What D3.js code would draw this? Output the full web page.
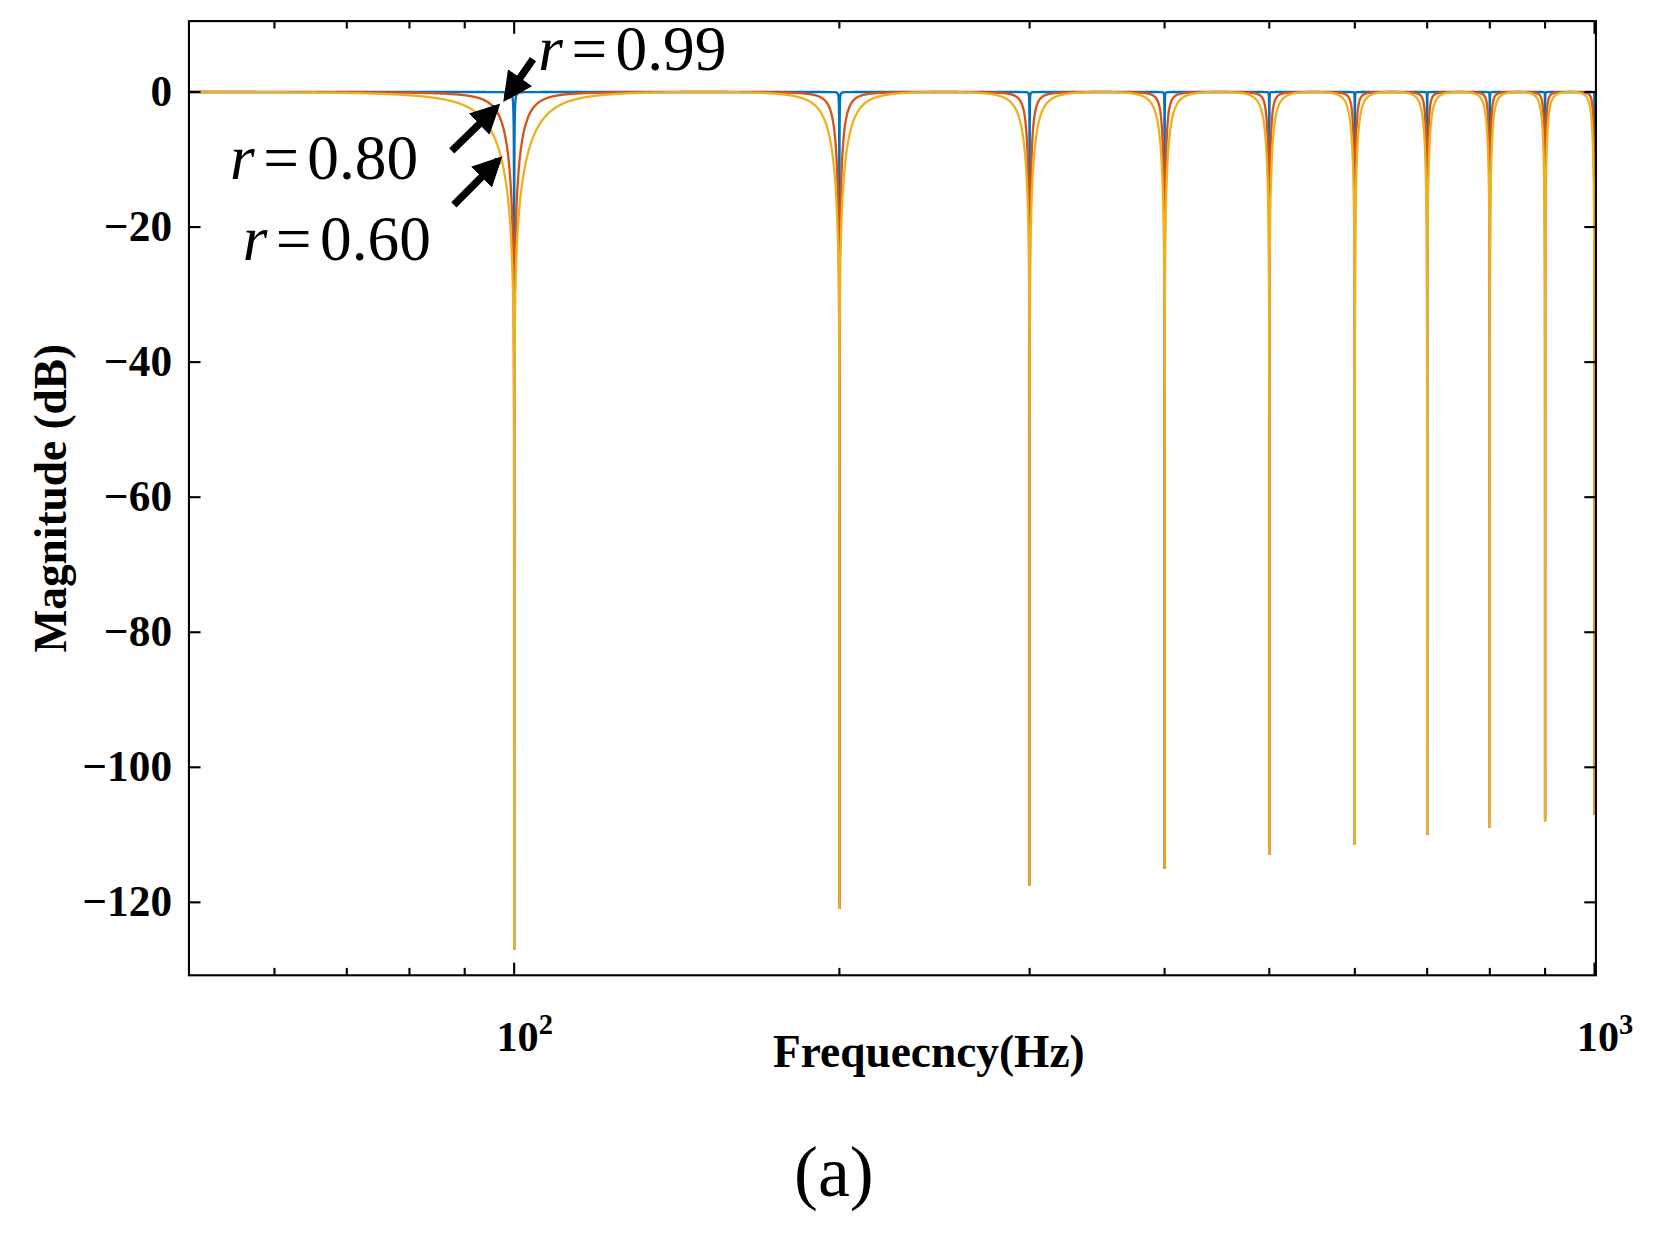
<!DOCTYPE html>
<html><head><meta charset="utf-8">
<script src="https://cdn.jsdelivr.net/npm/d3@7"></script>
<style>body{margin:0;background:#fff}svg{font-family:"Liberation Serif","Times New Roman",serif}</style>
</head><body><svg id="c" width="1653" height="1236"></svg>
<script>
// Data
const notchFreqs = [100,200,300,400,500,600,700,800,900,1000];
const notchDepths = [-127,-121,-117.5,-115,-113,-111.5,-110,-109,-108,-107];
const seriesR = [0.99, 0.80, 0.60];
const seriesColors = ["#0072BD","#D95319","#EDB120"];
const yTicks = [0,-20,-40,-60,-80,-100,-120];
const xMinor = [60,70,80,90,200,300,400,500,600,700,800,900];
const f0 = 100;

const svg = d3.select("#c").append("g").attr("transform","scale(1.0555)");
const L=179,R=1512,T=20,B=924;
const x = d3.scaleLog().domain([50,1003]).range([L,R]);
const y = d3.scaleLinear().domain([-130.8,10.5]).range([B,T]);

function mag(f,r){
  const th = 2*Math.PI*f/f0;
  const nr = Math.hypot(1-Math.cos(th), Math.sin(th));
  const dr = Math.hypot(1-r*Math.cos(th), r*Math.sin(th));
  let db = 20*Math.log10(Math.max(nr/dr*(1+r)/2,1e-12));
  const i = Math.min(notchFreqs.length-1, Math.max(0, Math.round(f/f0)-1));
  return Math.max(db, notchDepths[i]);
}
let freqs = d3.range(0,8001).map(i=>50*Math.pow(20,i/8000));
notchFreqs.forEach(n=>{freqs.push(n); [0.01,0.03,0.1,0.3].forEach(d=>{freqs.push(n-d); if(n+d<=1000)freqs.push(n+d);});});
freqs = freqs.filter(f=>f>=50&&f<=1000).sort((a,b)=>a-b);

const g = svg.append("g");
g.append("clipPath").attr("id","cp").append("rect").attr("x",L).attr("y",T).attr("width",R-L).attr("height",B-T);
const line = d3.line().x(d=>x(d[0])).y(d=>y(d[1]));
seriesR.forEach((r,k)=>{
  g.append("path").attr("clip-path","url(#cp)").datum(freqs.map(f=>[f,mag(f,r)]))
   .attr("d",line).attr("fill","none").attr("stroke",seriesColors[k]).attr("stroke-width",2.2);
});

svg.append("rect").attr("x",L).attr("y",T).attr("width",R-L).attr("height",B-T).attr("fill","none").attr("stroke","#000").attr("stroke-width",2);
yTicks.forEach(v=>{
  svg.append("line").attr("x1",L).attr("x2",L+11).attr("y1",y(v)).attr("y2",y(v)).attr("stroke","#000").attr("stroke-width",2);
  svg.append("line").attr("x1",R).attr("x2",R-11).attr("y1",y(v)).attr("y2",y(v)).attr("stroke","#000").attr("stroke-width",2);
  svg.append("text").attr("x",163).attr("y",y(v)+13).attr("text-anchor","end").attr("font-size",41).attr("font-weight","bold")
   .text(v<0?"\u2212"+Math.abs(v):v);
});
xMinor.forEach(v=>{
  svg.append("line").attr("x1",x(v)).attr("x2",x(v)).attr("y1",B).attr("y2",B-7).attr("stroke","#000").attr("stroke-width",2);
  svg.append("line").attr("x1",x(v)).attr("x2",x(v)).attr("y1",T).attr("y2",T+7).attr("stroke","#000").attr("stroke-width",2);
});
[[100,"2"],[1000,"3"]].forEach(([v,e])=>{
  svg.append("line").attr("x1",x(v)).attr("x2",x(v)).attr("y1",B).attr("y2",B-12).attr("stroke","#000").attr("stroke-width",2);
  svg.append("line").attr("x1",x(v)).attr("x2",x(v)).attr("y1",T).attr("y2",T+12).attr("stroke","#000").attr("stroke-width",2);
  const t=svg.append("text").attr("x",x(v)+10).attr("y",996).attr("text-anchor","middle").attr("font-size",40).attr("font-weight","bold");
  t.append("tspan").text("10");
  t.append("tspan").attr("dy",-16).attr("font-size",27).text(e);
});
svg.append("text").attr("x",880).attr("y",1011).attr("text-anchor","middle").attr("font-size",43).attr("font-weight","bold").text("Frequecncy(Hz)");
svg.append("text").attr("transform","translate(63,472) rotate(-90)").attr("text-anchor","middle").attr("font-size",43).attr("font-weight","bold").text("Magnitude (dB)");
svg.append("text").attr("x",790).attr("y",1133).attr("text-anchor","middle").attr("font-size",68).text("(a)");

svg.append("defs").append("marker").attr("id","ah").attr("viewBox","0 0 10 10").attr("refX",8).attr("refY",5)
 .attr("markerWidth",4).attr("markerHeight",4).attr("orient","auto").append("path").attr("d","M0,0L10,5L0,10z").attr("fill","#000");
[[505,56,480,92],[428,143,470,102],[430,194,472,152]].forEach(a=>{
  svg.append("line").attr("x1",a[0]).attr("y1",a[1]).attr("x2",a[2]).attr("y2",a[3]).attr("stroke","#000").attr("stroke-width",7).attr("marker-end","url(#ah)");
});
function lab(xp,yp,val){
  const t=svg.append("text").attr("x",xp).attr("y",yp).attr("font-size",60);
  t.append("tspan").attr("font-style","italic").text("r");
  t.append("tspan").attr("dx",8).text("=");
  t.append("tspan").attr("dx",8).text(val);
}
lab(510,66,"0.99");
lab(218,170,"0.80");
lab(230,246,"0.60");
</script></body></html>
